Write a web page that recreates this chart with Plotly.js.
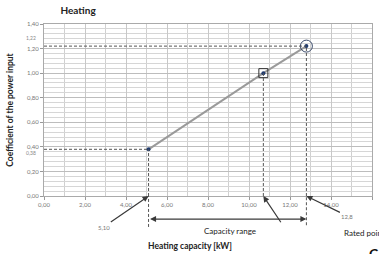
<!DOCTYPE html>
<html>
<head>
<meta charset="utf-8">
<script src="https://cdn.plot.ly/plotly-3.0.1.min.js"></script>
<style>html,body{margin:0;padding:0;background:#fff;overflow:hidden}#chart{width:379px;height:254px}</style>
</head>
<body>
<div id="chart"></div>
<script>
// Data
const capacity = [5.10, 10.7, 12.8];      // Heating capacity [kW]
const cop = [0.38, 1.00, 1.22];           // Coefficient of the power input
const xTickVals = [0, 2, 4, 6, 8, 10, 12, 14, 16];
const yTickVals = [0, 0.2, 0.4, 0.6, 0.8, 1.0, 1.2, 1.4];
const minLabel = '5,10';
const ratedLabel = '12,8';
const copMinLabel = '0,38';
const copRatedLabel = '1,22';

const gray = '#3a3a3a';
const FONT = 'Lato, "Open Sans", sans-serif';

const traces = [
  {
    x: capacity, y: cop, type: 'scatter', mode: 'lines+markers',
    line: {color: '#9a9a9a', width: 2},
    marker: {color: '#1f3a6e', size: 4},
    hoverinfo: 'skip', cliponaxis: false
  },
  {
    x: [capacity[1]], y: [cop[1]], type: 'scatter', mode: 'markers',
    marker: {symbol: 'square-open', size: 9, color: '#333', line: {width: 1}},
    hoverinfo: 'skip', cliponaxis: false
  },
  {
    x: [capacity[2]], y: [cop[2]], type: 'scatter', mode: 'markers',
    marker: {symbol: 'circle-open', size: 12, color: '#3a4a6a', line: {width: 1}},
    hoverinfo: 'skip', cliponaxis: false
  }
];

const dash = {color: '#555', width: 1, dash: '3px,2px'};
const shapes = [
  // horizontal guides
  {type: 'line', xref: 'x', yref: 'y', x0: 0, x1: capacity[2], y0: cop[2], y1: cop[2], line: dash},
  {type: 'line', xref: 'x', yref: 'y', x0: 0, x1: capacity[0], y0: cop[0], y1: cop[0], line: dash},
  // vertical guides inside plot
  {type: 'line', xref: 'x', yref: 'y', x0: capacity[0], x1: capacity[0], y0: 0, y1: cop[0], line: dash},
  {type: 'line', xref: 'x', yref: 'y', x0: capacity[1], x1: capacity[1], y0: 0, y1: cop[1], line: dash},
  {type: 'line', xref: 'x', yref: 'y', x0: capacity[2], x1: capacity[2], y0: 0, y1: cop[2], line: dash},
  // vertical guides below axis
  {type: 'line', xref: 'x', yref: 'paper', x0: capacity[0], x1: capacity[0], y0: -0.18, y1: 0, line: dash},
  {type: 'line', xref: 'x', yref: 'paper', x0: capacity[2], x1: capacity[2], y0: -0.17, y1: 0, line: dash}
];

const smallFont = {family: FONT, size: 6, color: '#777'};
const arrowStyle = {showarrow: true, arrowhead: 2, arrowsize: 1, arrowwidth: 1.2, arrowcolor: gray};
const annotations = [
  // capacity range double arrow
  {xref: 'x', yref: 'paper', x: capacity[2], y: -0.134, axref: 'x', ayref: 'pixel',
   ax: capacity[0], ay: 0, text: '', showarrow: true, arrowhead: 2, startarrowhead: 2,
   arrowside: 'end+start', arrowsize: 1, arrowwidth: 1.2, arrowcolor: gray},
  {xref: 'paper', yref: 'paper', x: 0.567, y: -0.204, xanchor: 'center', yanchor: 'middle',
   text: 'Capacity range', showarrow: false, font: {family: FONT, size: 8, color: '#222'}},
  {xref: 'paper', yref: 'paper', x: 0.909, y: -0.216, xanchor: 'left', yanchor: 'middle',
   text: 'Rated point', showarrow: false, font: {family: FONT, size: 8, color: '#222'}},
  {xref: 'paper', yref: 'paper', x: 0.985, y: -0.275, xanchor: 'left', yanchor: 'top',
   text: '<b>C</b>', showarrow: false, font: {family: FONT, size: 14, color: '#111'}},
  {xref: 'paper', yref: 'paper', x: 0.445, y: -0.29, xanchor: 'center', yanchor: 'middle',
   text: '<b>Heating capacity [kW]</b>', showarrow: false, font: {family: FONT, size: 8.5, color: '#222'}},
  // arrows pointing at the axis
  Object.assign({xref: 'x', yref: 'paper', x: capacity[0], y: 0, ax: -45, ay: 31, text: minLabel, font: smallFont}, arrowStyle),
  Object.assign({xref: 'x', yref: 'paper', x: capacity[1], y: 0, ax: 20, ay: 30, text: ' ', font: smallFont}, arrowStyle),
  Object.assign({xref: 'x', yref: 'paper', x: capacity[2], y: 0, ax: 41, ay: 20, text: ratedLabel, font: smallFont}, arrowStyle),
  // extra y labels
  {xref: 'paper', yref: 'y', x: -0.018, y: cop[2], yshift: 8, xanchor: 'right', yanchor: 'middle', text: copRatedLabel,
   showarrow: false, font: {family: FONT, size: 5, color: '#888'}},
  {xref: 'paper', yref: 'y', x: -0.018, y: cop[0], yshift: -4, xanchor: 'right', yanchor: 'middle', text: copMinLabel,
   showarrow: false, font: {family: FONT, size: 5, color: '#888'}}
];

const layout = {
  width: 379, height: 254,
  margin: {l: 44, r: 7, t: 24, b: 58},
  paper_bgcolor: '#fff', plot_bgcolor: '#fff',
  showlegend: false,
  separators: ',.',
  font: {family: FONT},
  title: {text: '<b>Heating</b>', x: 0.206, xanchor: 'center', y: 0.96, yanchor: 'middle',
          font: {family: FONT, size: 10, color: '#222'}},
  xaxis: {
    range: [0, 16], tickvals: xTickVals, tickformat: '.2f',
    showgrid: true, gridcolor: '#c8c8c8', gridwidth: 1,
    minor: {dtick: 1, showgrid: true, gridcolor: '#d0d0d0', ticks: ''},
    ticks: 'outside', ticklen: 3, tickcolor: '#999',
    showline: true, linecolor: '#aaa', mirror: true, zeroline: false,
    tickfont: {family: FONT, size: 6, color: '#777'}, fixedrange: true
  },
  yaxis: {
    range: [0, 1.4], tickvals: yTickVals, tickformat: '.2f',
    showgrid: true, gridcolor: '#bdbdbd', gridwidth: 1,
    minor: {dtick: 0.04, showgrid: true, gridcolor: '#d6d6d6', ticks: ''},
    ticks: 'outside', ticklen: 3, tickcolor: '#999',
    showline: true, linecolor: '#aaa', mirror: true, zeroline: false,
    tickfont: {family: FONT, size: 6, color: '#777'},
    title: {text: '<b>Coefficient of the power input</b>', standoff: 12,
            font: {family: FONT, size: 8.5, color: '#222'}},
    fixedrange: true
  },
  shapes: shapes,
  annotations: annotations
};

Plotly.newPlot('chart', traces, layout, {staticPlot: true, displayModeBar: false});
</script>
</body>
</html>
